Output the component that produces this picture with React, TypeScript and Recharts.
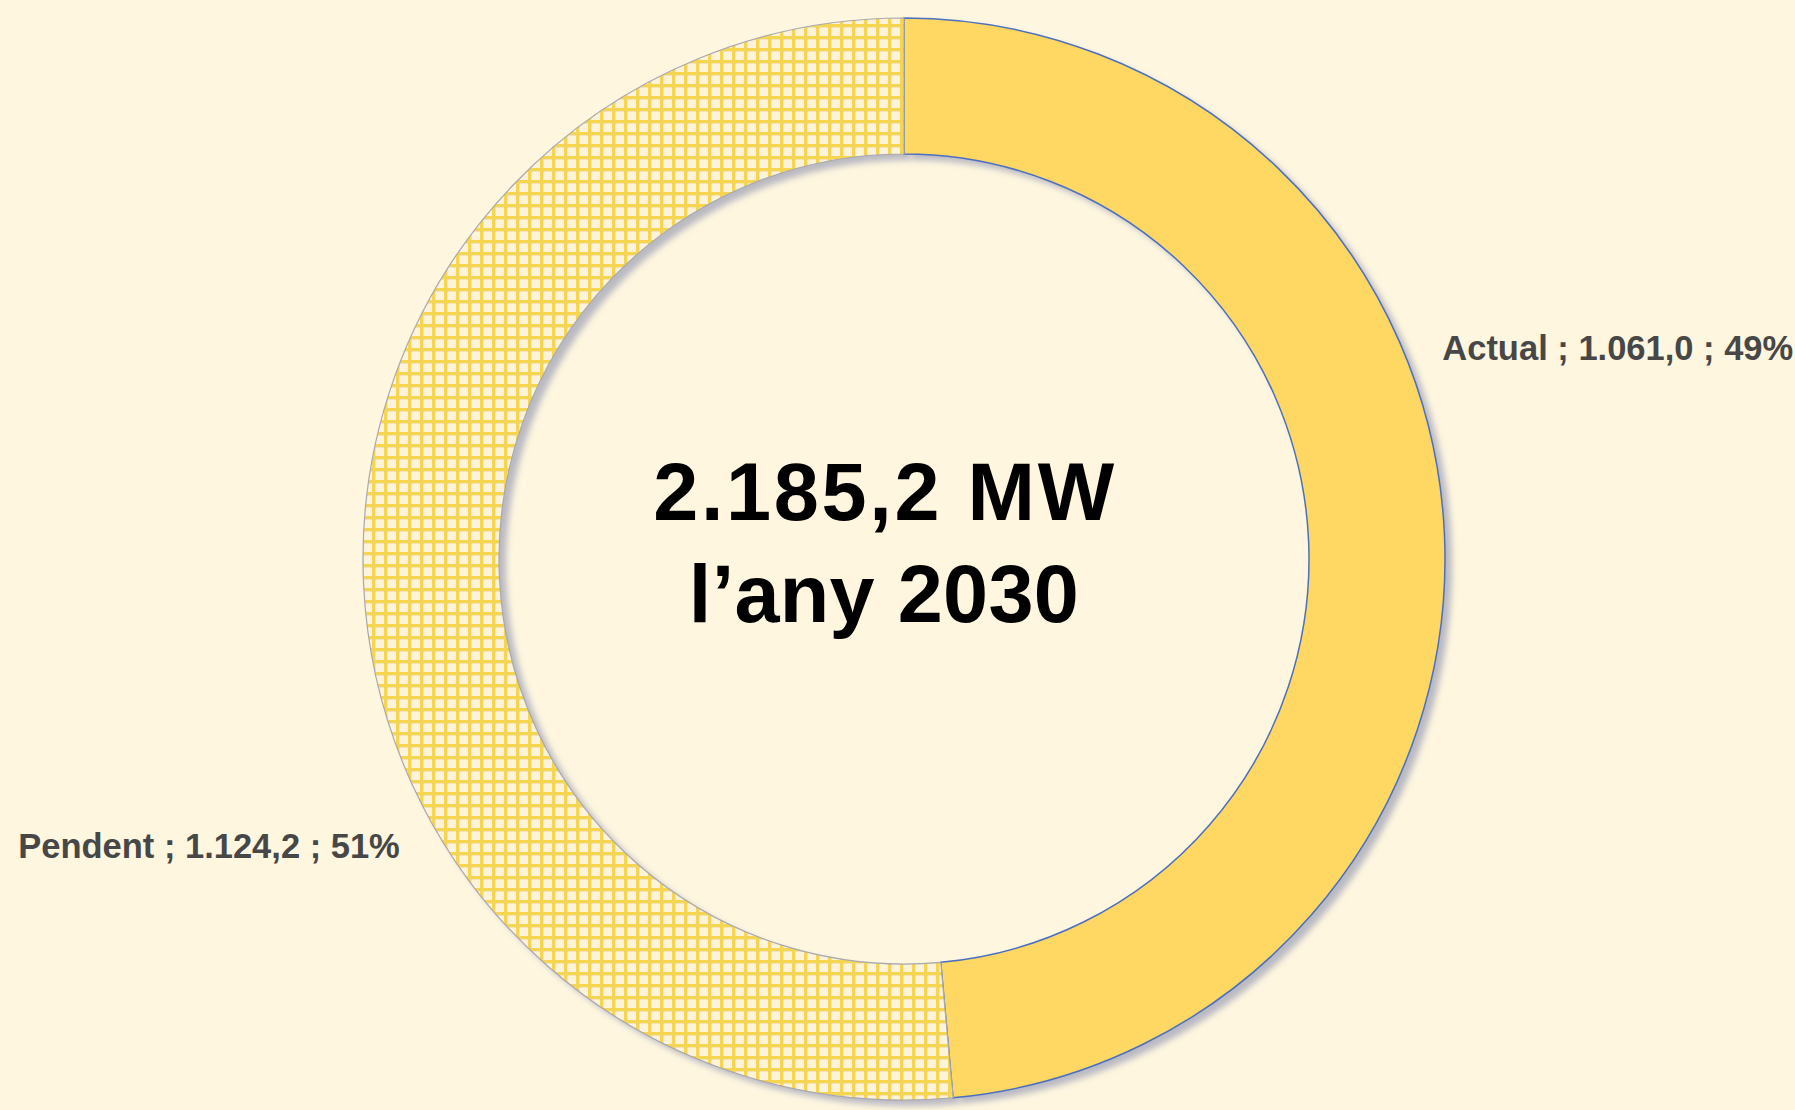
import { PieChart, Pie, Cell, Label } from 'recharts';

const categories = ['Actual', 'Pendent'];
const values = [1061.0, 1124.2];
const valueLabels = ['1.061,0', '1.124,2'];
const percentLabels = ['49%', '51%'];
const centerLines = ['2.185,2 MW', 'l\u2019any 2030'];

const data = categories.map((name, i) => ({
  name,
  value: values[i],
  text: `${name} ; ${valueLabels[i]} ; ${percentLabels[i]}`,
}));

const BG = '#FEF6DF';
const FONT = '"Liberation Sans", Arial, sans-serif';

const CX = 899;
const CY = 554;
const INNER = 405;
const OUTER = 541;

function renderLabel(props: any) {
  const { cx, cy, outerRadius, index, payload } = props;
  const right = index === 0;
  const x = right ? cx + outerRadius * 0.995 : cx - outerRadius * 0.932;
  const y = right ? cy - outerRadius * 0.39 : cy + outerRadius * 0.53;
  return (
    <text
      x={x}
      y={y}
      textAnchor={right ? 'start' : 'end'}
      dominantBaseline="central"
      fill="#474747"
      fontFamily={FONT}
      fontWeight={700}
      fontSize={34.5}
    >
      {payload.text}
    </text>
  );
}

function CenterText({ viewBox }: any) {
  const cx = viewBox?.cx ?? CX;
  const cy = viewBox?.cy ?? CY;
  return (
    <g>
      <text x={cx - 14} y={cy - 34} textAnchor="middle" fill="#000" fontFamily={FONT} fontWeight={700} fontSize={81} letterSpacing={2.7}>
        {centerLines[0]}
      </text>
      <text x={cx - 15} y={cy + 68} textAnchor="middle" fill="#000" fontFamily={FONT} fontWeight={700} fontSize={81} letterSpacing={0.3}>
        {centerLines[1]}
      </text>
    </g>
  );
}

export default function App() {
  return (
    <div style={{ position: 'fixed', left: 0, top: 0, width: 1795, height: 1110, background: BG, overflow: 'hidden' }}>
      <svg width={0} height={0} style={{ position: 'absolute' }}>
        <defs>
          <pattern id="gridFill" width={12} height={12} patternUnits="userSpaceOnUse">
            <rect width={12} height={12} fill="#FDF3DA" />
            <rect x={0} y={0} width={12} height={3} fill="#F6D650" />
            <rect x={0} y={0} width={3} height={12} fill="#F6D650" />
            <rect x={3} y={3} width={9} height={0.6} fill="#D9C88E" opacity={0.6} />
            <rect x={3} y={3} width={0.6} height={9} fill="#D9C88E" opacity={0.6} />
          </pattern>
          <filter id="softShadow" x="-10%" y="-10%" width="120%" height="120%">
            <feGaussianBlur stdDeviation={3} />
          </filter>
        </defs>
      </svg>
      <PieChart width={1795} height={1110}>
        <Pie
          data={data}
          dataKey="value"
          cx={CX + 7}
          cy={CY + 6}
          innerRadius={INNER}
          outerRadius={OUTER}
          startAngle={90}
          endAngle={-270}
          stroke="none"
          isAnimationActive={false}
        >
          {data.map((d) => (
            <Cell key={d.name} fill="#b9b9c2" style={{ filter: 'url(#softShadow)' }} />
          ))}
        </Pie>
        <Pie
          data={data}
          dataKey="value"
          cx={CX}
          cy={CY}
          innerRadius={INNER}
          outerRadius={OUTER}
          startAngle={90}
          endAngle={-270}
          label={renderLabel}
          labelLine={false}
          isAnimationActive={false}
        >
          <Cell fill="#FED862" stroke="#4B6FC1" strokeWidth={1.5} />
          <Cell fill="url(#gridFill)" stroke="#A8A8B0" strokeWidth={1.2} />
          <Label position="center" content={<CenterText />} />
        </Pie>
      </PieChart>
    </div>
  );
}
